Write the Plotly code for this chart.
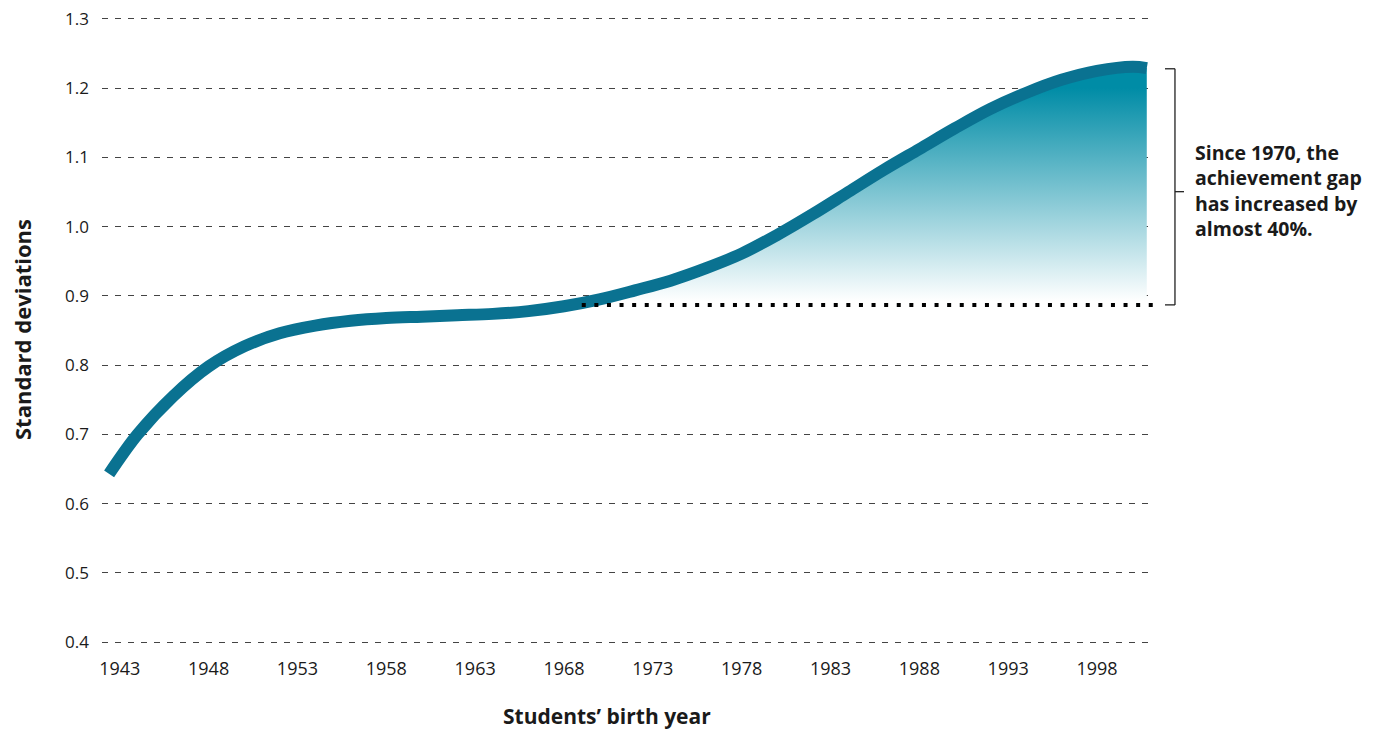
import plotly.graph_objects as go

# ─── Data ──────────────────────────────────────────────────────────────────────
YEARS = [1942.4, 1944, 1946, 1948, 1950, 1952, 1954, 1956, 1958, 1960, 1962,
         1964, 1966, 1968, 1970, 1972, 1974, 1976, 1978, 1980, 1982, 1984,
         1986, 1988, 1990, 1992, 1994, 1996, 1998, 2000, 2000.8]
GAP_SD = [0.643, 0.700, 0.755, 0.798, 0.827, 0.846, 0.857, 0.864, 0.868,
          0.870, 0.872, 0.874, 0.878, 0.885, 0.895, 0.908, 0.922, 0.940,
          0.961, 0.988, 1.018, 1.050, 1.082, 1.112, 1.142, 1.170, 1.193,
          1.212, 1.225, 1.231, 1.229]
BASELINE_1970 = 0.887
BASELINE_SPAN = [1969.0, 2001.15]
X_TICKS = [1943, 1948, 1953, 1958, 1963, 1968, 1973, 1978, 1983, 1988, 1993, 1998]
Y_TICKS = [0.4, 0.5, 0.6, 0.7, 0.8, 0.9, 1.0, 1.1, 1.2, 1.3]
NOTE = "Since 1970, the<br>achievement gap<br>has increased by<br>almost 40%."

# ─── Colours ───────────────────────────────────────────────────────────────────
LINE = "#0a7291"
FILL_TOP = "#008ca6"
GRID = "#444444"
TEXT = "#1a1a1a"
FONT = "Open Sans, sans-serif"

fig = go.Figure()

# shaded gain since 1970
fill_x = [x for x in YEARS if x >= 1968]
fill_y = [y for x, y in zip(YEARS, GAP_SD) if x >= 1968]
fig.add_trace(go.Scatter(
    x=[fill_x[0] + 1.3, fill_x[-1]], y=[BASELINE_1970, BASELINE_1970],
    mode="lines", line=dict(width=0), hoverinfo="skip", showlegend=False))
fig.add_trace(go.Scatter(
    x=fill_x, y=fill_y, mode="lines", line=dict(width=0, shape="spline"),
    fill="tonexty",
    fillgradient=dict(type="vertical", start=BASELINE_1970 + 0.005, stop=1.2,
                      colorscale=[[0, "rgba(255,255,255,1)"], [1, FILL_TOP]]),
    hoverinfo="skip", showlegend=False))

# main curve
fig.add_trace(go.Scatter(
    x=YEARS, y=GAP_SD, mode="lines",
    line=dict(color=LINE, width=12, shape="spline", smoothing=1.0),
    showlegend=False))

# 1970 reference level (drawn over the curve)
fig.add_trace(go.Scatter(
    x=BASELINE_SPAN, y=[BASELINE_1970, BASELINE_1970], mode="lines",
    line=dict(color="#000000", width=4, dash="4px,8.6px"),
    hoverinfo="skip", showlegend=False))

# bracket
br = dict(type="line", xref="paper", yref="y", line=dict(color="#222222", width=1.3))
fig.add_shape(x0=1.0209, x1=1.0209, y0=BASELINE_1970, y1=1.228, **br)
fig.add_shape(x0=1.0114, x1=1.0209, y0=1.228, y1=1.228, **br)
fig.add_shape(x0=1.0114, x1=1.0209, y0=BASELINE_1970, y1=BASELINE_1970, **br)
fig.add_shape(x0=1.0209, x1=1.0295, y0=1.0505, y1=1.0505, **br)

fig.add_annotation(x=1.038, xref="paper", xanchor="left", y=1.052, yref="y",
                   text=f"<b>{NOTE}</b>", showarrow=False, align="left",
                   font=dict(size=19.5, color=TEXT, family=FONT))

fig.add_annotation(x=0.4805, xref="paper", xanchor="center",
                   y=-0.105, yref="paper", yanchor="middle",
                   text="<b>Students’ birth year</b>", showarrow=False,
                   font=dict(size=21, color=TEXT, family=FONT))
fig.add_annotation(x=-0.0761, xref="paper", xanchor="center",
                   y=0.5008, yref="paper", yanchor="middle",
                   text="<b>Standard deviations</b>", showarrow=False, textangle=-90,
                   font=dict(size=22, color=TEXT, family=FONT))

# page body keeps an 8px margin, so the figure is 16px smaller than the window
fig.update_layout(
    width=1358, height=722,
    margin=dict(l=94, r=213, t=4, b=81, autoexpand=False),
    plot_bgcolor="white", paper_bgcolor="white",
    font=dict(family=FONT, color=TEXT, size=18),
)
fig.update_xaxes(range=[1942.0, 2001.15], tickvals=X_TICKS, showgrid=False,
                 zeroline=False, showline=False, ticks="", ticklabelstandoff=7,
                 automargin=False, tickfont=dict(size=18))
fig.update_yaxes(range=[0.39, 1.31], tickvals=Y_TICKS, tickformat=".1f",
                 showgrid=True, gridcolor=GRID, gridwidth=1, griddash="6px,7px",
                 zeroline=False, showline=False, ticks="", ticklabelstandoff=12,
                 ticklabeloverflow="allow", automargin=False,
                 tickfont=dict(size=17))

fig.write_html("out.html")
